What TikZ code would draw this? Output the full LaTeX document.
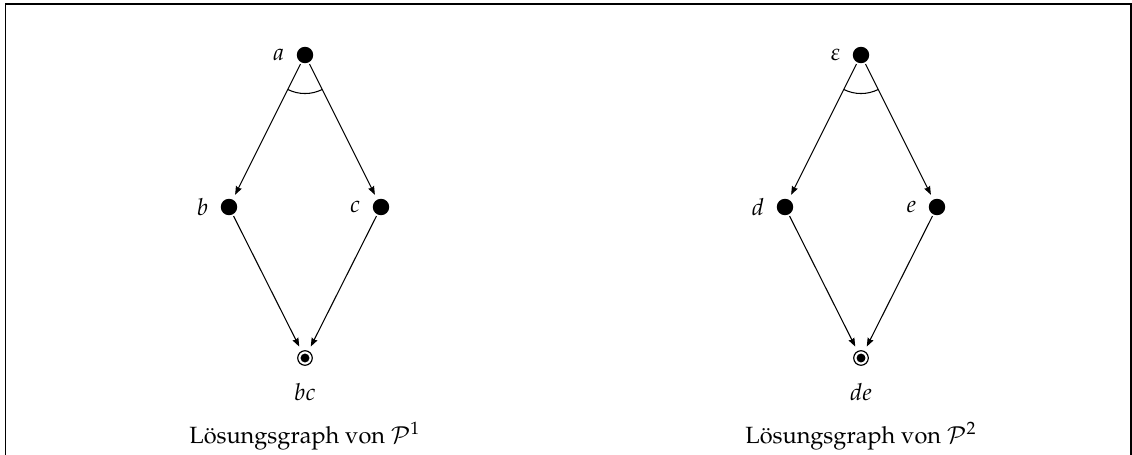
\documentclass[tikz,border=0pt]{standalone}
\usepackage[T1]{fontenc}
\usepackage{mathpazo}
\usetikzlibrary{arrows.meta}

\begin{document}
\begin{tikzpicture}[x=0.4255pt,y=-0.4255pt,
  vertex/.style={circle,fill=black,inner sep=0pt,minimum size=7pt},
  goal/.style={circle,draw,line width=0.5pt,inner sep=0pt,minimum size=6.2pt,
    path picture={\fill (path picture bounding box.center) circle (1.9pt);}},
  lbl/.style={label distance=1.6pt},
  edge/.style={-{Stealth[length=3.6pt,width=2.7pt,inset=0.4pt]},line width=0.45pt,
    shorten >=2.1pt,shorten <=0.6pt},
  andarc/.style={line width=0.45pt},
  frame/.style={line width=0.65pt}]
\useasboundingbox (0,0) rectangle (1132,455);

% open frame around both graphs
\coordinate (fbl) at (5.5,455);
\coordinate (ftl) at (5.5,4);
\coordinate (ftr) at (1131,4);
\coordinate (fbr) at (1131,455);
\draw[frame] (fbl) -- (ftl) -- (ftr) -- (fbr);

% solution graph of P^1
\node[vertex,label={[lbl]left:$a$}] (a) at (305,55) {};
\node[vertex,label={[lbl]left:$b$}] (b) at (229,207) {};
\node[vertex,label={[lbl]left:$c$}] (c) at (381,207) {};
\node[goal] (bc) at (305,358) {};
\node[anchor=base] (bcl) at (305,400) {$bc$};
\draw[edge] (a) -- (b);
\draw[edge] (a) -- (c);
\draw[edge] (b) -- (bc);
\draw[edge] (c) -- (bc);
\draw[andarc] ([shift={(243.7:16.4pt)}]a.center) arc[start angle=243.7,end angle=296.3,radius=16.4pt];
\node[anchor=base] (cap1) at (305,443) {L\"osungsgraph von $\mathcal{P}^1$};

% solution graph of P^2
\node[vertex,label={[lbl]left:$\varepsilon$}] (eps) at (861,55) {};
\node[vertex,label={[lbl]left:$d$}] (d) at (785,207) {};
\node[vertex,label={[lbl]left:$e$}] (e) at (937,207) {};
\node[goal] (de) at (861,358) {};
\node[anchor=base] (del) at (861,400) {$de$};
\draw[edge] (eps) -- (d);
\draw[edge] (eps) -- (e);
\draw[edge] (d) -- (de);
\draw[edge] (e) -- (de);
\draw[andarc] ([shift={(243.7:16.4pt)}]eps.center) arc[start angle=243.7,end angle=296.3,radius=16.4pt];
\node[anchor=base] (cap2) at (861,443) {L\"osungsgraph von $\mathcal{P}^2$};
\end{tikzpicture}
\end{document}
